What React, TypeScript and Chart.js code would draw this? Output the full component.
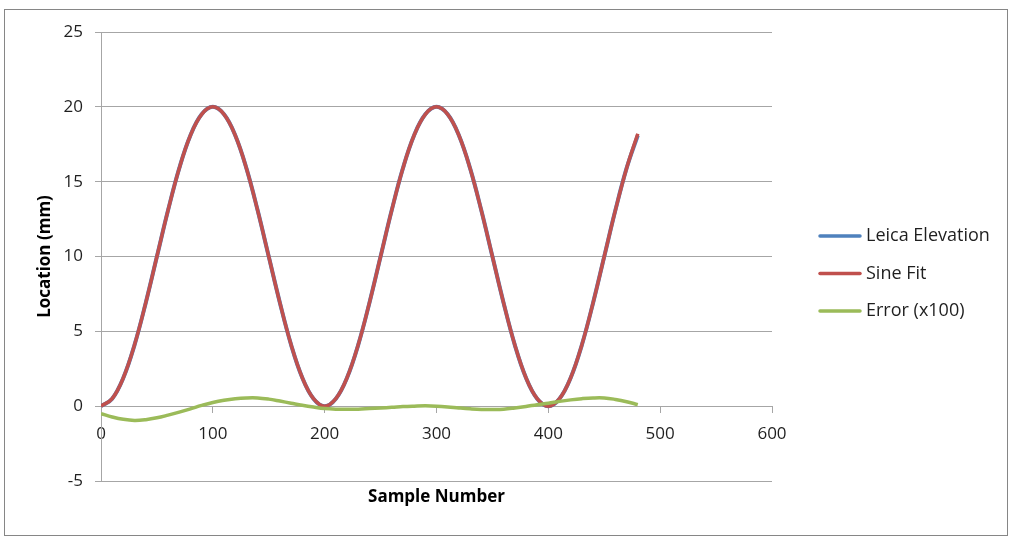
import React, { useEffect, useRef } from 'react';
import { Chart, registerables } from 'chart.js';

Chart.register(...registerables);

// ---- Data ----
const sampleNumbers = [
  0, 10, 20, 30, 40, 50, 60, 70, 80, 90,
  100, 110, 120, 130, 140, 150, 160, 170, 180, 190,
  200, 210, 220, 230, 240, 250, 260, 270, 280, 290,
  300, 310, 320, 330, 340, 350, 360, 370, 380, 390,
  400, 410, 420, 430, 440, 450, 460, 470, 480,
];

const leicaElevation = [
  0.0, 0.5, 1.9, 4.1, 6.9, 10.0, 13.1, 15.9, 18.1, 19.5,
  20.0, 19.5, 18.1, 15.9, 13.1, 10.0, 6.9, 4.1, 1.9, 0.5,
  0.0, 0.5, 1.9, 4.1, 6.9, 10.0, 13.1, 15.9, 18.1, 19.5,
  20.0, 19.5, 18.1, 15.9, 13.1, 10.0, 6.9, 4.1, 1.9, 0.5,
  0.0, 0.5, 1.9, 4.1, 6.9, 10.0, 13.1, 15.9, 18.1,
];

const sineFit = [
  0.0, 0.5, 1.9, 4.1, 6.9, 10.0, 13.1, 15.9, 18.1, 19.5,
  20.0, 19.5, 18.1, 15.9, 13.1, 10.0, 6.9, 4.1, 1.9, 0.5,
  0.0, 0.5, 1.9, 4.1, 6.9, 10.0, 13.1, 15.9, 18.1, 19.5,
  20.0, 19.5, 18.1, 15.9, 13.1, 10.0, 6.9, 4.1, 1.9, 0.5,
  0.0, 0.5, 1.9, 4.1, 6.9, 10.0, 13.1, 15.9, 18.2,
];

const errorX100 = [
  -0.5, -0.72, -0.88, -0.95, -0.9, -0.78, -0.6, -0.4, -0.18, 0.05,
  0.25, 0.4, 0.5, 0.55, 0.55, 0.47, 0.34, 0.2, 0.06, -0.06,
  -0.16, -0.2, -0.2, -0.2, -0.16, -0.12, -0.08, -0.03, 0.0, 0.02,
  0.0, -0.05, -0.12, -0.18, -0.22, -0.22, -0.2, -0.12, -0.02, 0.1,
  0.2, 0.32, 0.42, 0.5, 0.55, 0.55, 0.45, 0.3, 0.1,
];

const seriesNames = ['Leica Elevation', 'Sine Fit', 'Error (x100)'];
const seriesColors = ['#4F81BD', '#C0504D', '#9BBB59'];
const xTitle = 'Sample Number';
const yTitle = 'Location (mm)';

const FONT = '"Open Sans", "Liberation Sans", sans-serif';
const TEXT = '#1f1f1f';

const toPoints = (ys: number[]) => ys.map((y, i) => ({ x: sampleNumbers[i], y }));

const decorPlugin = {
  id: 'decor',
  beforeDraw(chart: any) {
    const ctx = chart.ctx;
    ctx.save();
    ctx.fillStyle = '#ffffff';
    ctx.fillRect(0, 0, chart.width, chart.height);
    ctx.strokeStyle = '#868686';
    ctx.lineWidth = 1;
    ctx.strokeRect(4.5, 9.5, 1003, 526);
    ctx.restore();
  },
  afterDraw(chart: any) {
    const ctx = chart.ctx;
    const a = chart.chartArea;
    ctx.save();
    ctx.fillStyle = '#000000';
    ctx.font = `bold 17px ${FONT}`;
    ctx.textAlign = 'center';
    ctx.textBaseline = 'middle';
    ctx.fillText(xTitle, (a.left + a.right) / 2, 497);
    ctx.save();
    ctx.translate(45, (a.top + a.bottom) / 2);
    ctx.rotate(-Math.PI / 2);
    ctx.fillText(yTitle, 0, 0);
    ctx.restore();

    // legend
    ctx.font = `18px ${FONT}`;
    ctx.textAlign = 'left';
    ctx.textBaseline = 'middle';
    seriesNames.forEach((name, i) => {
      const y = 236 + i * 37.5;
      ctx.strokeStyle = seriesColors[i];
      ctx.lineWidth = 3.5;
      ctx.lineCap = 'round';
      ctx.beginPath();
      ctx.moveTo(820, y);
      ctx.lineTo(860, y);
      ctx.stroke();
      ctx.fillStyle = TEXT;
      ctx.fillText(name, 866, y);
    });
    ctx.restore();
  },
};

export default function App() {
  const canvasRef = useRef<HTMLCanvasElement | null>(null);

  useEffect(() => {
    if (!canvasRef.current) return;
    const gridColor = '#a6a6a6';
    const chart = new Chart(canvasRef.current, {
      type: 'scatter',
      data: {
        datasets: [
          {
            label: seriesNames[0],
            data: toPoints(leicaElevation),
            borderColor: seriesColors[0],
            backgroundColor: seriesColors[0],
            borderWidth: 4,
            showLine: true,
            pointRadius: 0,
            tension: 0.4,
            order: 3,
          },
          {
            label: seriesNames[1],
            data: toPoints(sineFit),
            borderColor: seriesColors[1],
            backgroundColor: seriesColors[1],
            borderWidth: 3.5,
            showLine: true,
            pointRadius: 0,
            tension: 0.4,
            order: 2,
          },
          {
            label: seriesNames[2],
            data: toPoints(errorX100),
            borderColor: seriesColors[2],
            backgroundColor: seriesColors[2],
            borderWidth: 3.5,
            showLine: true,
            pointRadius: 0,
            tension: 0.4,
            order: 1,
          },
        ],
      },
      plugins: [decorPlugin],
      options: {
        responsive: false,
        animation: false,
        layout: { padding: { left: 0, top: 32, right: 241, bottom: 58 } },
        plugins: {
          legend: { display: false },
          tooltip: { enabled: false },
        },
        scales: {
          x: {
            type: 'linear',
            position: { y: 0 } as any,
            min: 0,
            max: 600,
            ticks: {
              stepSize: 100,
              padding: 12,
              color: TEXT,
              font: { family: FONT, size: 17 },
              maxRotation: 0,
            },
            grid: {
              drawOnChartArea: false,
              drawTicks: true,
              tickLength: 6,
              color: gridColor,
              tickColor: gridColor,
            },
            border: { display: true, color: gridColor, width: 1 },
          },
          y: {
            type: 'linear',
            position: 'left',
            min: -5,
            max: 25,
            afterFit: (scale: any) => {
              scale.width = 101;
            },
            ticks: {
              stepSize: 5,
              padding: 12,
              color: TEXT,
              font: { family: FONT, size: 17 },
            },
            grid: {
              drawTicks: true,
              tickLength: 6,
              color: gridColor,
              tickColor: gridColor,
            },
            border: { display: true, color: gridColor, width: 1 },
          },
        },
      },
    });
    return () => chart.destroy();
  }, []);

  return (
    <div style={{ position: 'absolute', left: 0, top: 0, width: 1013, height: 539, background: '#fff' }}>
      <canvas ref={canvasRef} width={1013} height={539} style={{ display: 'block' }} />
    </div>
  );
}
